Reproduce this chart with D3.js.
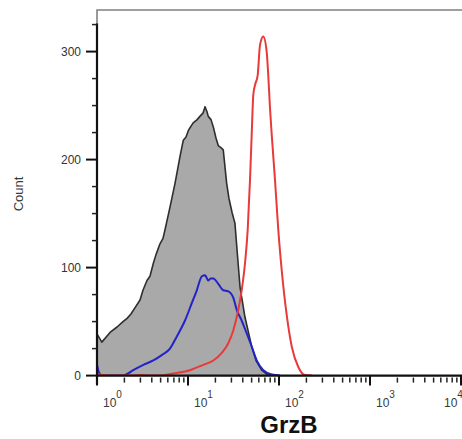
<!DOCTYPE html>
<html>
<head>
<meta charset="utf-8">
<script src="https://cdn.jsdelivr.net/npm/d3@7"></script>
<style>
  html, body { margin: 0; padding: 0; background: #fff; }
  svg { display: block; }
  text { font-family: "Liberation Sans", Arial, sans-serif; }
</style>
</head>
<body>
<svg id="chart" width="462" height="439"></svg>
<script>
// ---- Data (fluorescence intensity, count) ----
const grayIntensity = [1.01, 1.13, 1.39, 1.66, 1.93, 2.14, 2.36, 2.62, 2.97, 3.20, 3.54, 3.82, 4.16, 4.45, 4.92, 5.31, 5.59, 6.34, 7.20, 8.17, 8.88, 9.51, 10.1, 10.8, 11.4, 12.6, 13.5, 14.6, 15.4, 16.2, 16.7, 17.9, 19.0, 20.3, 21.5, 23.0, 24.4, 26.6, 28.2, 30.5, 32.8, 35.0, 37.3, 42.3, 50.1, 55.9, 64.5, 75.7, 92.7];
const grayCount     = [38, 31, 40, 45, 50, 53, 57, 63, 70, 79, 88, 92, 104, 112, 122, 127, 135, 156, 178, 203, 218, 221, 227, 231, 234, 237, 240, 243, 249, 244, 240, 237, 230, 220, 213, 211, 209, 178, 164, 151, 141, 111, 82, 54, 27, 14, 5, 0.5, 0];

const blueIntensity = [1.00, 1.05, 1.13, 1.94, 2.19, 2.50, 3.23, 4.16, 5.14, 6.34, 7.51, 9.27, 11.0, 12.5, 14.2, 15.4, 16.7, 17.7, 19.0, 21.5, 24.4, 27.7, 31.5, 34.3, 38.9, 44.2, 50.1, 56.9, 67.2, 83.2, 103];
const blueCount     = [10, 3, 0, 0, 2, 5, 10, 14, 19, 25, 36, 51, 67, 79, 92, 93, 88, 90, 90, 85, 79, 78, 72, 61, 51, 39, 27, 14, 5, 1, 0];

const redIntensity = [1.00, 1.13, 1.58, 2.31, 2.97, 3.82, 4.92, 6.89, 10.5, 14.7, 19.0, 23.5, 27.7, 31.5, 35.7, 38.9, 42.3, 45.3, 48.0, 50.1, 52.2, 54.5, 58.3, 61.8, 67.2, 73.2, 76.2, 79.6, 83.2, 90.4, 98.2, 107, 122, 138, 163, 193, 229];
const redCount     = [2.4, 0.5, 0, 0, 0.5, 0, 0, 2, 5, 10, 14, 21, 30, 42, 61, 79, 104, 135, 181, 223, 260, 269, 278, 306, 314, 300, 278, 248, 223, 181, 135, 98, 55, 27, 8, 0.5, 0];

const yTicks = [0, 100, 200, 300];
const yMinorTicks = [25, 50, 75, 125, 150, 175, 225, 250, 275, 325];
const xDecades = [1, 10, 100, 1000, 10000];
const xDecadeExp = ["0", "1", "2", "3", "4"];
const xLabel = "GrzB";
const yLabel = "Count";

// ---- Scales ----
const svg = d3.select("#chart");
const W = 462, H = 439;
const x = d3.scaleLog().domain([1, 10000]).range([97, 461]);
const y = d3.scaleLinear().domain([0, 338.5]).range([375.6, 10]);

const toPts = (xs, ys) => xs.map((v, i) => [v, ys[i]]);

svg.append("defs").append("clipPath").attr("id", "plotclip")
  .append("rect").attr("x", 97).attr("y", 10).attr("width", W - 97).attr("height", 376 - 10);

// frame (top + left)
svg.append("path")
  .attr("d", `M${x(1)},${y(0)} V${y(338.5)} H${W + 5}`)
  .attr("fill", "none").attr("stroke", "#808080").attr("stroke-width", 1.6);

const plot = svg.append("g").attr("clip-path", "url(#plotclip)");

// gray filled histogram
const grayPts = toPts(grayIntensity, grayCount);
const area = d3.area().x(d => x(d[0])).y0(y(0)).y1(d => y(d[1])).curve(d3.curveLinear);
const line = d3.line().x(d => x(d[0])).y(d => y(d[1])).curve(d3.curveLinear);
const smooth = d3.line().x(d => x(d[0])).y(d => y(d[1])).curve(d3.curveMonotoneX);

plot.append("path").attr("d", area(grayPts)).attr("fill", "#a9a9a9");
plot.append("path").attr("d", line(grayPts)).attr("fill", "none")
  .attr("stroke", "#2e2e2e").attr("stroke-width", 1.6).attr("stroke-linejoin", "round");

// blue
plot.append("path").attr("d", smooth(toPts(blueIntensity, blueCount))).attr("fill", "none")
  .attr("stroke", "#2323c8").attr("stroke-width", 2).attr("stroke-linejoin", "round");

// red
plot.append("path").attr("d", smooth(toPts(redIntensity, redCount))).attr("fill", "none")
  .attr("stroke", "#e83a3a").attr("stroke-width", 2).attr("stroke-linejoin", "round");

// ---- Y axis ----
const gy = svg.append("g");
gy.append("line").attr("x1", x(1)).attr("x2", x(1)).attr("y1", y(325) - 1).attr("y2", y(0) + 9)
  .attr("stroke", "#111").attr("stroke-width", 2.2);
gy.selectAll(".ymaj").data(yTicks).enter().append("line")
  .attr("x1", x(1) - 11).attr("x2", x(1)).attr("y1", d => y(d)).attr("y2", d => y(d))
  .attr("stroke", "#111").attr("stroke-width", 2);
gy.selectAll(".ymin").data(yMinorTicks).enter().append("line")
  .attr("x1", x(1) - 5).attr("x2", x(1)).attr("y1", d => y(d)).attr("y2", d => y(d))
  .attr("stroke", "#222").attr("stroke-width", 1.5);
gy.selectAll(".ylab").data(yTicks).enter().append("text")
  .attr("x", x(1) - 16).attr("y", d => y(d) + 4.5)
  .attr("text-anchor", "end").attr("font-size", 12).attr("fill", "#333")
  .text(d => d);
svg.append("text").attr("transform", "translate(23,194) rotate(-90)")
  .attr("text-anchor", "middle").attr("font-size", 13).attr("fill", "#3a3a3a").text(yLabel);

// ---- X axis ----
const gx = svg.append("g");
gx.append("line").attr("x1", x(1)).attr("x2", W).attr("y1", y(0)).attr("y2", y(0))
  .attr("stroke", "#111").attr("stroke-width", 2.2);
const minor = [];
for (let d = 1; d < 10000; d *= 10) for (let k = 2; k <= 9; k++) minor.push(d * k);
gx.selectAll(".xmin").data(minor).enter().append("line")
  .attr("x1", d => x(d)).attr("x2", d => x(d)).attr("y1", y(0) + 2).attr("y2", y(0) + 7)
  .attr("stroke", "#222").attr("stroke-width", 1.5);
gx.selectAll(".xmaj").data(xDecades).enter().append("line")
  .attr("x1", d => x(d)).attr("x2", d => x(d)).attr("y1", y(0)).attr("y2", y(0) + 10)
  .attr("stroke", "#111").attr("stroke-width", 2);
const labs = gx.selectAll(".xlab").data(xDecades).enter().append("text")
  .attr("x", (d, i) => Math.min(x(d) + 6, W - 18))
  .attr("y", 407)
  .attr("font-size", 12).attr("fill", "#3a3a3a");
labs.append("tspan").text("10");
labs.append("tspan").attr("dy", -9).attr("font-size", 10).text((d, i) => xDecadeExp[i]);

svg.append("text").attr("x", 289).attr("y", 433).attr("text-anchor", "middle")
  .attr("font-size", 24).attr("font-weight", "bold").attr("fill", "#111").text(xLabel);
</script>
</body>
</html>
